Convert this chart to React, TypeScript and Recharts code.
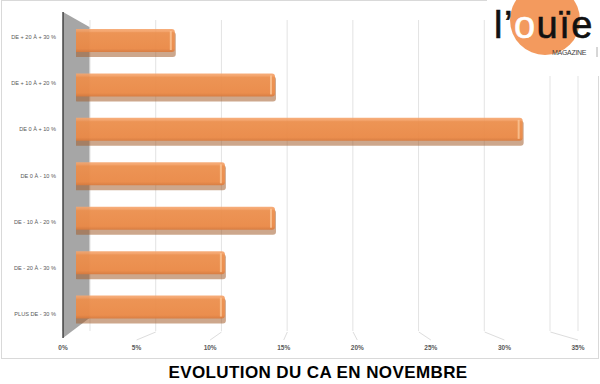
import { BarChart, Bar, XAxis, YAxis, CartesianGrid, ReferenceArea } from "recharts"

// CA evolution brackets, top to bottom
const categories = [
  "DE + 20 À + 30 %",
  "DE + 10 À + 20 %",
  "DE 0 À + 10 %",
  "DE 0 À - 10 %",
  "DE - 10 À - 20 %",
  "DE - 20 À - 30 %",
  "PLUS DE - 30 %",
]
const shares = [7.1, 14.3, 32.1, 10.7, 14.3, 10.7, 10.7]
const xTicks = [0, 5, 10, 15, 20, 25, 30, 35]

const chartData = categories.map((label, i) => ({ label, value: shares[i] }))

const font = "'Liberation Sans', Arial, sans-serif"

// front-plane label + the slanted foot of the back-wall gridline
function FrontTick({ x, y, payload }: any) {
  const v = payload.value as number
  const back = x + 27 - 1.56 * v
  return (
    <g>
      {v > 0 && <line x1={back} y1={y - 29} x2={x} y2={y - 21} stroke="#DDDDDD" />}
      <text
        x={x}
        y={y - 11}
        textAnchor="middle"
        fontSize={6.5}
        fontWeight="bold"
        fill="#595959"
        fontFamily={font}
      >
        {v}%
      </text>
    </g>
  )
}

// labels sit on the front plane, so they spread a little wider than the bars
function CatTick({ x, y, payload, index }: any) {
  return (
    <text
      x={x}
      y={y}
      dy={2 + (index - 3) * 1.9}
      textAnchor="end"
      fontSize={5.6}
      fill="#595959"
      fontFamily={font}
    >
      {payload.value}
    </text>
  )
}

function Wall({ x, y, width, height }: any) {
  const pts = [
    [x, y - 8],
    [x + width, y + 7],
    [x + width, y + height - 13],
    [x, y + height + 7],
  ]
  return (
    <g>
      <polygon points={pts.map((p) => p.join(",")).join(" ")} fill="#A6A6A6" />
      <line x1={x} y1={y - 8} x2={x} y2={y + height + 7} stroke="#262626" strokeWidth={1.2} />
    </g>
  )
}

function Bar3D({ x, y, width, height }: any) {
  const left = x - 3
  const w = width + 3
  return (
    <g>
      <rect x={left + 1} y={y + 3} width={w} height={height - 1} rx={3} fill="#A45E2D" opacity={0.55} />
      <rect x={left} y={y} width={w} height={height - 3} rx={3} fill="url(#barFace)" fillOpacity={0.9} />
      <rect x={left + w - 5} y={y + 2} width={2} height={height - 7} fill="#FBC596" opacity={0.8} />
    </g>
  )
}

function Logo() {
  return (
    <svg width={113} height={76} style={{ position: "absolute", left: 487, top: 0 }}>
      <rect x={0} y={0} width={113} height={76} fill="#fff" />
      <circle cx={58} cy={20} r={35} fill="#F39A5E" />
      <text
        x={7}
        y={38}
        fontSize={38}
        fontFamily={font}
        letterSpacing={1.5}
        fill="#111"
        stroke="#111"
        strokeWidth={0.6}
      >
        l’<tspan fill="#fff" stroke="#fff">o</tspan>uïe
      </text>
      <text x={65} y={55} fontSize={7} fontFamily={font} letterSpacing={-0.3} fill="#404040">
        MAGAZINE
      </text>
      <line x1={110} y1={47} x2={110} y2={57} stroke="#999" strokeWidth={0.8} />
    </svg>
  )
}

export default function App() {
  return (
    <div
      style={{
        position: "absolute",
        left: 0,
        top: 0,
        width: 600,
        height: 384,
        background: "#fff",
        fontFamily: font,
      }}
    >
      <div
        style={{
          position: "absolute",
          left: 1,
          top: 0,
          width: 596,
          height: 357,
          border: "1px solid #D9D9D9",
        }}
      />
      <div style={{ position: "absolute", left: 0, top: 0 }}>
        <BarChart
          width={600}
          height={360}
          data={chartData}
          layout="vertical"
          margin={{ top: 20, right: 22, bottom: 0, left: 0 }}
        >
          <defs>
            <linearGradient id="barFace" x1="0" y1="0" x2="0" y2="1">
              <stop offset="0%" stopColor="#F6A66F" />
              <stop offset="18%" stopColor="#F0924F" />
              <stop offset="85%" stopColor="#EE8B47" />
              <stop offset="100%" stopColor="#D9793B" />
            </linearGradient>
          </defs>
          <CartesianGrid xAxisId="grid" horizontal={false} stroke="#E3E3E3" />
          <XAxis
            xAxisId="front"
            type="number"
            domain={[0, 35]}
            allowDataOverflow
            ticks={xTicks}
            height={29}
            axisLine={false}
            tickLine={false}
            tickSize={0}
            tickMargin={0}
            tick={<FrontTick />}
          />
          <XAxis
            xAxisId="grid"
            type="number"
            domain={[0, 35]}
            allowDataOverflow
            ticks={xTicks}
            padding={{ left: 27, right: 28 }}
            hide
          />
          <XAxis
            xAxisId="bars"
            type="number"
            domain={[0, 35]}
            allowDataOverflow
            padding={{ left: 13, right: 15 }}
            hide
          />
          <YAxis
            type="category"
            dataKey="label"
            width={63}
            axisLine={false}
            tickLine={false}
            tickSize={0}
            tickMargin={7}
            tick={<CatTick />}
          />
          <ReferenceArea xAxisId="front" x1={0} x2={1.8} ifOverflow="visible" shape={<Wall />} />
          <Bar
            xAxisId="bars"
            dataKey="value"
            barSize={26}
            shape={<Bar3D />}
            isAnimationActive={false}
          />
        </BarChart>
      </div>
      <Logo />
      <div
        style={{
          position: "absolute",
          left: 36,
          top: 363,
          width: 564,
          textAlign: "center",
          fontSize: 17,
          fontWeight: 900,
          color: "#000",
          fontFamily: font,
          letterSpacing: 0.4,
        }}
      >
        EVOLUTION DU CA EN NOVEMBRE
      </div>
    </div>
  )
}
